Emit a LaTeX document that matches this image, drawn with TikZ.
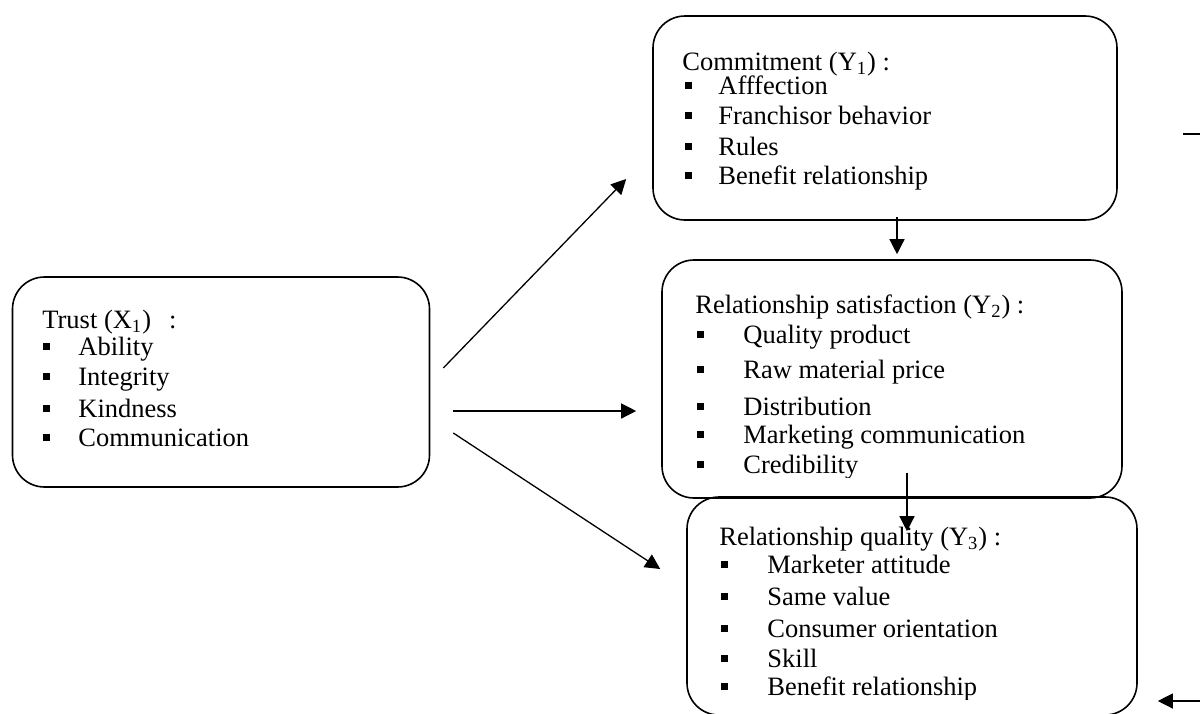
\documentclass[tikz,border=0pt]{standalone}
\usepackage{fontspec}
\setmainfont{Liberation Serif}
\usetikzlibrary{arrows.meta}
\newcommand{\sqbul}[1]{\makebox[#1][l]{\rule[2.5pt]{3.3pt}{3.3pt}}}

\begin{document}
\begin{tikzpicture}[
		x=0.5pt, y=-0.5pt
		,box/.style={draw, rounded corners=16pt, line width=0.8pt, inner sep=0pt}
		,txt/.style={anchor=base west, inner sep=0pt, font=\fontsize{13.25}{15}\selectfont}
		,arr/.style={-{Triangle[length=7.5pt,width=7.5pt]}, line width=0.65pt}
	]
		\useasboundingbox (0,0) rectangle (1200,713);
		\clip (0,0) rectangle (1200,713);

		% boxes
		\node[box, minimum width=232pt, minimum height=102pt] (commit) at (885,118) {};
		\node[box, minimum width=208.5pt, minimum height=105pt] (trust) at (221,382) {};
		\node[box, minimum width=230pt, minimum height=119pt] (satis) at (892,379) {};
		\node[box, minimum width=225pt, minimum height=109pt] (qual) at (912,606) {};

		% commitment
		\node[txt] (commitT) at (682,70) {Commitment (Y\textsubscript{1}) :};
		\foreach \y/\lbl [count=\i] in {94/Afffection, 124/Franchisor behavior, 155/Rules, 184/Benefit relationship}
			\node[txt] (commit\i) at (685,\y) {\sqbul{16.5pt}\lbl};

		% trust
		\node[txt] (trustT) at (42,328) {Trust (X\textsubscript{1})\hspace{9pt}:};
		\foreach \y/\lbl [count=\i] in {355/Ability, 385/Integrity, 417/Kindness, 446/Communication}
			\node[txt] (trust\i) at (43,\y) {\sqbul{17.5pt}\lbl};

		% satisfaction
		\begin{scope}
			\clip (662,260) rectangle (1122,477);
			\node[txt] (satisT) at (695,313) {Relationship satisfaction (Y\textsubscript{2}) :};
			\foreach \y/\lbl [count=\i] in {343/Quality product, 378/Raw material price, 415/Distribution, 443/Marketing communication, 473/Credibility}
				\node[txt] (satis\i) at (697,\y) {\sqbul{23pt}\lbl};
		\end{scope}

		% quality
		\begin{scope}
			\clip (687,497) rectangle (1137,699);
			\node[txt] (qualT) at (719,545) {Relationship quality (Y\textsubscript{3}) :};
			\foreach \y/\lbl [count=\i] in {573/Marketer attitude, 605/Same value, 637/Consumer orientation, 667/Skill, 695/Benefit relationship}
				\node[txt] (qual\i) at (721,\y) {\sqbul{23pt}\lbl};
		\end{scope}

		% arrows
		\draw[arr] ([shift={(6.5pt,7pt)}]trust.east) -- ([shift={(-13pt,-30.5pt)}]commit.west);
		\draw[arr] ([shift={(11.5pt,-14.5pt)}]trust.east) -- ([shift={(-12.5pt,-16pt)}]satis.west);
		\draw[arr] ([shift={(11.5pt,-25.5pt)}]trust.east) -- ([shift={(-13pt,18.5pt)}]qual.west);
		\draw[arr] ([shift={(6pt,2pt)}]commit.south) -- ([shift={(2.5pt,2.5pt)}]satis.north);
		\draw[arr] ([shift={(7.5pt,13pt)}]satis.south) -- ([shift={(-2.5pt,-17.5pt)}]qual.north);

		% stubs at the right edge
		\coordinate (stubA) at (1183,134);
		\coordinate (stubB) at (1200,134);
		\coordinate (inQ) at (1200,701);
		\draw[line width=0.6pt] (stubA) -- (stubB);
		\draw[arr] (inQ) -- ([shift={(10pt,-47.5pt)}]qual.east);
	\end{tikzpicture}
\end{document}
